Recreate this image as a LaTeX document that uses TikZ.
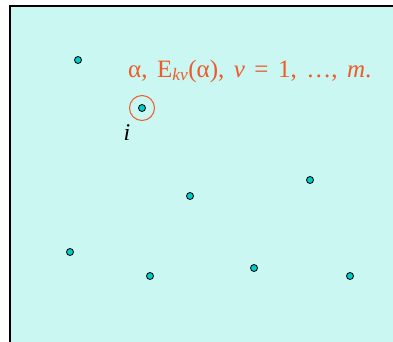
\documentclass[tikz,border=0pt]{standalone}
\usepackage{fontspec}
\setmainfont{Liberation Serif}
\definecolor{bgc}{HTML}{CBF7F3}
\definecolor{dotc}{HTML}{00CCCC}
\definecolor{orng}{HTML}{EE5A28}
\begin{document}
\begin{tikzpicture}[x=1pt,y=-1pt,
  pt/.style={circle,draw=black,fill=dotc,line width=0.8pt,inner sep=0pt,minimum size=7pt}]
\useasboundingbox (0,0) rectangle (393,341);
\fill[white] (0,0) rectangle (393,341);
\fill[bgc] (10,6) rectangle (395,343);
\draw[line width=1.3pt] (10,343) -- (10,6) -- (395,6);
\node[pt] (p1) at (78,60) {};
\node[pt] (p2) at (142,108) {};
\node[pt] (p3) at (190,196) {};
\node[pt] (p4) at (310,180) {};
\node[pt] (p5) at (70,252) {};
\node[pt] (p6) at (150,276) {};
\node[pt] (p7) at (254,268) {};
\node[pt] (p8) at (350,276) {};
\node[circle,draw=orng,line width=1pt,minimum size=25pt,inner sep=0pt] (ring) at (p2) {};
\node[anchor=base west,inner sep=0pt,text=orng,font=\fontsize{25}{25}\selectfont] (lbl) at (128,77)
  {\spaceskip=9.5pt α, E\textsubscript{\itshape kv}(α), \textit{v} = 1, …, \textit{m}.};
\node[anchor=base,inner sep=0pt,font=\fontsize{24}{24}\selectfont\itshape] (ilbl) at (127,140) {i};
\end{tikzpicture}
\end{document}
